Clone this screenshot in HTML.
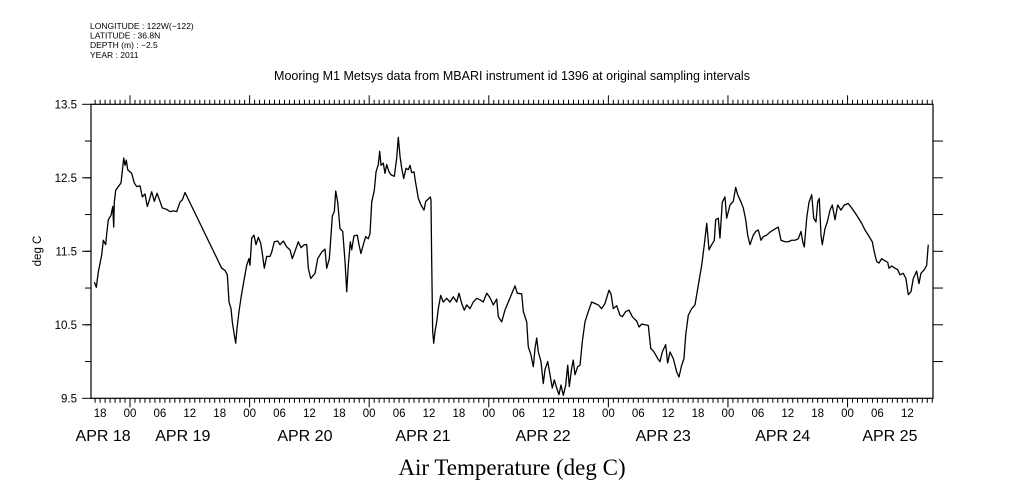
<!DOCTYPE html>
<html><head><meta charset="utf-8">
<style>
html,body{margin:0;padding:0;background:#fff;}
svg{display:block;font-family:"Liberation Sans",sans-serif;}
</style></head>
<body>
<svg id="chart" width="1009" height="504" viewBox="0 0 1009 504" xmlns="http://www.w3.org/2000/svg">
<rect width="1009" height="504" fill="#fff"/>
<g font-size="8.5" fill="#000">
<text x="90" y="29">LONGITUDE : 122W(−122)</text>
<text x="90" y="38.5">LATITUDE : 36.8N</text>
<text x="90" y="48">DEPTH (m) : −2.5</text>
<text x="90" y="58">YEAR : 2011</text>
</g>
<text x="512" y="80" text-anchor="middle" font-size="12.5">Mooring M1 Metsys data from MBARI instrument id 1396 at original sampling intervals</text>
<text x="0" y="0" transform="translate(41,251) rotate(-90)" text-anchor="middle" font-size="11.5">deg C</text>
<text x="512" y="475" text-anchor="middle" font-size="23" font-family="'Liberation Serif',serif">Air Temperature (deg C)</text>
<g id="axes"></g>
<g id="series"></g>
</svg>
<script>
const hours = [-7.16,-6.76,-6.36,-5.68,-5.36,-4.88,-4.68,-4.35,-3.81,-3.47,-3.27,-3.15,-2.87,-2.35,-1.81,-1.26,-1.00,-0.74,-0.46,0.34,0.86,1.34,2.01,2.47,3.01,3.47,3.81,4.35,4.88,5.42,6.02,6.48,7.37,8.03,8.69,9.37,10.03,10.50,11.04,18.40,19.06,19.53,19.87,20.27,20.53,20.93,21.21,21.47,21.87,22.42,22.94,23.42,23.88,24.08,24.42,24.88,25.29,25.75,26.23,26.55,26.95,27.43,28.10,28.44,28.96,29.64,30.10,30.76,31.45,32.11,32.57,33.11,33.77,34.32,34.98,35.46,35.78,36.26,37.13,37.67,38.47,39.13,39.47,40.00,40.34,40.60,41.00,41.28,41.68,42.14,42.69,43.15,43.49,43.81,44.21,44.49,44.95,45.61,45.95,46.35,46.82,47.30,47.82,48.16,48.51,49.03,49.37,49.83,50.11,50.37,50.83,51.17,51.51,51.98,52.38,53.04,53.52,53.84,54.19,54.53,54.93,55.39,55.85,56.19,56.53,56.99,57.33,57.86,58.40,59.00,59.34,59.86,60.26,60.40,60.54,60.74,60.95,61.21,61.55,61.87,62.35,62.87,63.56,64.22,64.88,65.56,66.02,66.57,67.09,67.57,68.23,68.89,69.58,70.24,70.90,71.58,72.24,72.91,73.59,73.91,74.59,75.25,77.26,77.72,78.61,78.93,79.61,79.93,80.47,80.94,81.28,81.62,81.94,82.48,82.94,83.28,83.82,84.29,84.75,85.15,85.63,86.09,86.49,86.96,87.44,87.84,88.16,88.64,88.96,89.30,89.84,90.31,90.77,91.31,91.97,92.65,93.31,93.98,94.66,95.32,96.12,96.53,96.99,97.67,98.33,98.79,99.48,100.14,100.80,101.69,102.15,102.69,103.35,104.02,104.50,105.16,105.90,106.36,106.82,107.50,107.90,108.37,109.03,109.71,110.17,110.71,111.17,111.52,112.04,112.72,113.38,114.05,114.73,115.25,115.74,116.20,116.74,117.26,117.54,118.06,118.40,118.86,119.40,119.74,120.41,121.07,121.55,121.95,122.62,123.08,123.56,123.96,124.42,125.09,125.57,126.09,126.63,127.10,127.77,128.43,129.10,130.10,130.64,131.44,132.10,132.79,133.45,134.11,134.66,135.00,135.32,135.80,136.27,136.81,137.21,137.67,138.01,138.33,138.67,138.93,139.48,139.94,140.48,140.94,141.48,142.02,142.68,143.34,144.14,144.83,145.35,146.03,146.84,147.50,148.16,148.96,149.37,149.85,150.31,150.85,151.51,152.06,152.32,152.86,153.52,154.06,154.52,155.18,155.72,156.19,156.73,157.19,157.87,158.33,158.73,159.40,159.88,160.20];
const temps = [11.08,11.01,11.22,11.45,11.65,11.59,11.74,11.93,11.99,12.11,11.83,12.17,12.33,12.38,12.43,12.77,12.67,12.74,12.61,12.56,12.43,12.38,12.39,12.24,12.28,12.11,12.18,12.31,12.18,12.29,12.18,12.09,12.07,12.04,12.05,12.04,12.17,12.20,12.30,11.27,11.24,11.18,10.81,10.72,10.54,10.36,10.25,10.45,10.68,10.93,11.13,11.31,11.40,11.31,11.68,11.72,11.59,11.69,11.61,11.47,11.27,11.43,11.43,11.49,11.63,11.64,11.59,11.64,11.56,11.52,11.40,11.50,11.63,11.55,11.59,11.59,11.27,11.13,11.20,11.40,11.49,11.53,11.27,11.40,11.72,11.98,12.04,12.32,12.17,11.81,11.77,11.36,10.95,11.31,11.63,11.52,11.71,11.72,11.59,11.47,11.59,11.70,11.67,11.74,12.17,12.33,12.58,12.68,12.86,12.67,12.70,12.56,12.68,12.58,12.54,12.52,12.77,13.05,12.79,12.63,12.49,12.63,12.61,12.67,12.57,12.58,12.43,12.22,12.13,12.06,12.18,12.21,12.24,12.20,11.38,10.41,10.25,10.41,10.54,10.72,10.90,10.81,10.86,10.81,10.88,10.81,10.93,10.79,10.70,10.77,10.72,10.81,10.86,10.84,10.81,10.93,10.87,10.77,10.85,10.61,10.54,10.70,11.03,10.93,10.92,10.68,10.54,10.20,10.09,9.93,10.18,10.32,10.13,10.00,9.70,9.89,10.00,9.82,9.64,9.75,9.64,9.55,9.68,9.54,9.68,9.95,9.66,9.91,10.02,9.82,9.93,9.95,10.27,10.54,10.68,10.81,10.79,10.77,10.72,10.79,10.97,10.92,10.72,10.76,10.63,10.61,10.68,10.70,10.61,10.55,10.47,10.51,10.50,10.49,10.18,10.13,10.04,10.00,10.13,10.23,9.98,10.13,10.04,9.86,9.79,9.95,10.04,10.36,10.63,10.72,10.77,11.04,11.31,11.59,11.88,11.52,11.59,11.65,11.93,11.95,11.68,12.17,12.24,11.95,12.13,12.18,12.37,12.27,12.17,12.09,11.93,11.72,11.59,11.72,11.77,11.79,11.65,11.70,11.72,11.76,11.79,11.83,11.65,11.63,11.63,11.65,11.65,11.67,11.77,11.63,11.56,11.95,12.17,12.27,11.95,11.90,12.17,12.22,11.72,11.59,11.81,11.90,12.06,12.13,11.93,12.13,12.06,12.13,12.15,12.09,12.04,11.97,11.88,11.79,11.72,11.63,11.49,11.36,11.34,11.40,11.37,11.35,11.27,11.30,11.27,11.25,11.18,11.20,11.13,10.91,10.95,11.13,11.23,11.06,11.20,11.25,11.31,11.59];
const yTickValues = [13.5,12.5,11.5,10.5,9.5];
const yTickLabels = ["13.5","12.5","11.5","10.5","9.5"];
const hourLabels = ["18","00","06","12","18","00","06","12","18","00","06","12","18","00","06","12","18","00","06","12","18","00","06","12","18","00","06","12","18","00","06","12"];
const hourLabelHours = [-6,0,6,12,18,24,30,36,42,48,54,60,66,72,78,84,90,96,102,108,114,120,126,132,138,144,150,156];
const dayLabels = ["APR 18","APR 19","APR 20","APR 21","APR 22","APR 23","APR 24","APR 25"];
const dayLabelHours = [-5.4,10.6,35.1,58.8,82.9,107,131,152.5];

const NS="http://www.w3.org/2000/svg";
const L=91,R=933,T=104.3,B=398.3;
const H0=-7.83,H1=161.15,Y0=9.5,Y1=13.5;
function xs(h){return L+(h-H0)/(H1-H0)*(R-L);}
function ys(v){return B-(v-Y0)/(Y1-Y0)*(B-T);}
const axes=document.getElementById('axes');
const series=document.getElementById('series');
function line(g,x1,y1,x2,y2,name){
  const l=document.createElementNS(NS,'line');
  l.setAttribute('x1',x1);l.setAttribute('y1',y1);l.setAttribute('x2',x2);l.setAttribute('y2',y2);
  l.setAttribute('stroke','#000');l.setAttribute('stroke-width','1');
  
  
  g.appendChild(l);return l;
}
function text(g,x,y,s,size,anchor,name){
  const t=document.createElementNS(NS,'text');
  t.setAttribute('x',x);t.setAttribute('y',y);t.setAttribute('font-size',size);
  t.setAttribute('text-anchor',anchor);t.textContent=s;
  
  
  g.appendChild(t);return t;
}
const frame=document.createElementNS(NS,'rect');
frame.setAttribute('x',L);frame.setAttribute('y',T);frame.setAttribute('width',R-L);frame.setAttribute('height',B-T);
frame.setAttribute('fill','none');frame.setAttribute('stroke','#000');frame.setAttribute('stroke-width','1.2');


axes.appendChild(frame);
// hourly ticks
for(let h=Math.ceil(H0);h<=H1;h++){
  const x=xs(h);const major=((h%24)+24)%24===0;const len=major?9:4.5;
  line(axes,x,T,x,T-len,'top-hour-tick');
  line(axes,x,B,x,B+len,'bottom-hour-tick');
}
// y ticks
for(let v=10;v<=13;v+=0.5){
  const y=ys(v);
  line(axes,L-6,y,L,y,'y-minor-tick-left');
  line(axes,R,y,R+10,y,'y-tick-right');
}
yTickValues.forEach((v,i)=>{
  const y=ys(v);
  line(axes,L-9,y,L,y,'y-major-tick');
  text(axes,L-14,y+4,yTickLabels[i],11.5,'end','y-tick-label');
});
hourLabelHours.forEach((h,i)=>{
  text(axes,xs(h),417,hourLabels[i],11.5,'middle','hour-tick-label');
});
dayLabelHours.forEach((h,i)=>{
  text(axes,xs(h),441,dayLabels[i],16,'middle','date-label');
});
// series line
let d='';
hours.forEach((h,i)=>{d+=(i?'L':'M')+xs(h).toFixed(2)+','+ys(temps[i]).toFixed(2);});
const p=document.createElementNS(NS,'path');
p.setAttribute('d',d);p.setAttribute('fill','none');p.setAttribute('stroke','#000');p.setAttribute('stroke-width','1.3');
p.setAttribute('stroke-linejoin','round');


series.appendChild(p);
</script>
</body></html>
